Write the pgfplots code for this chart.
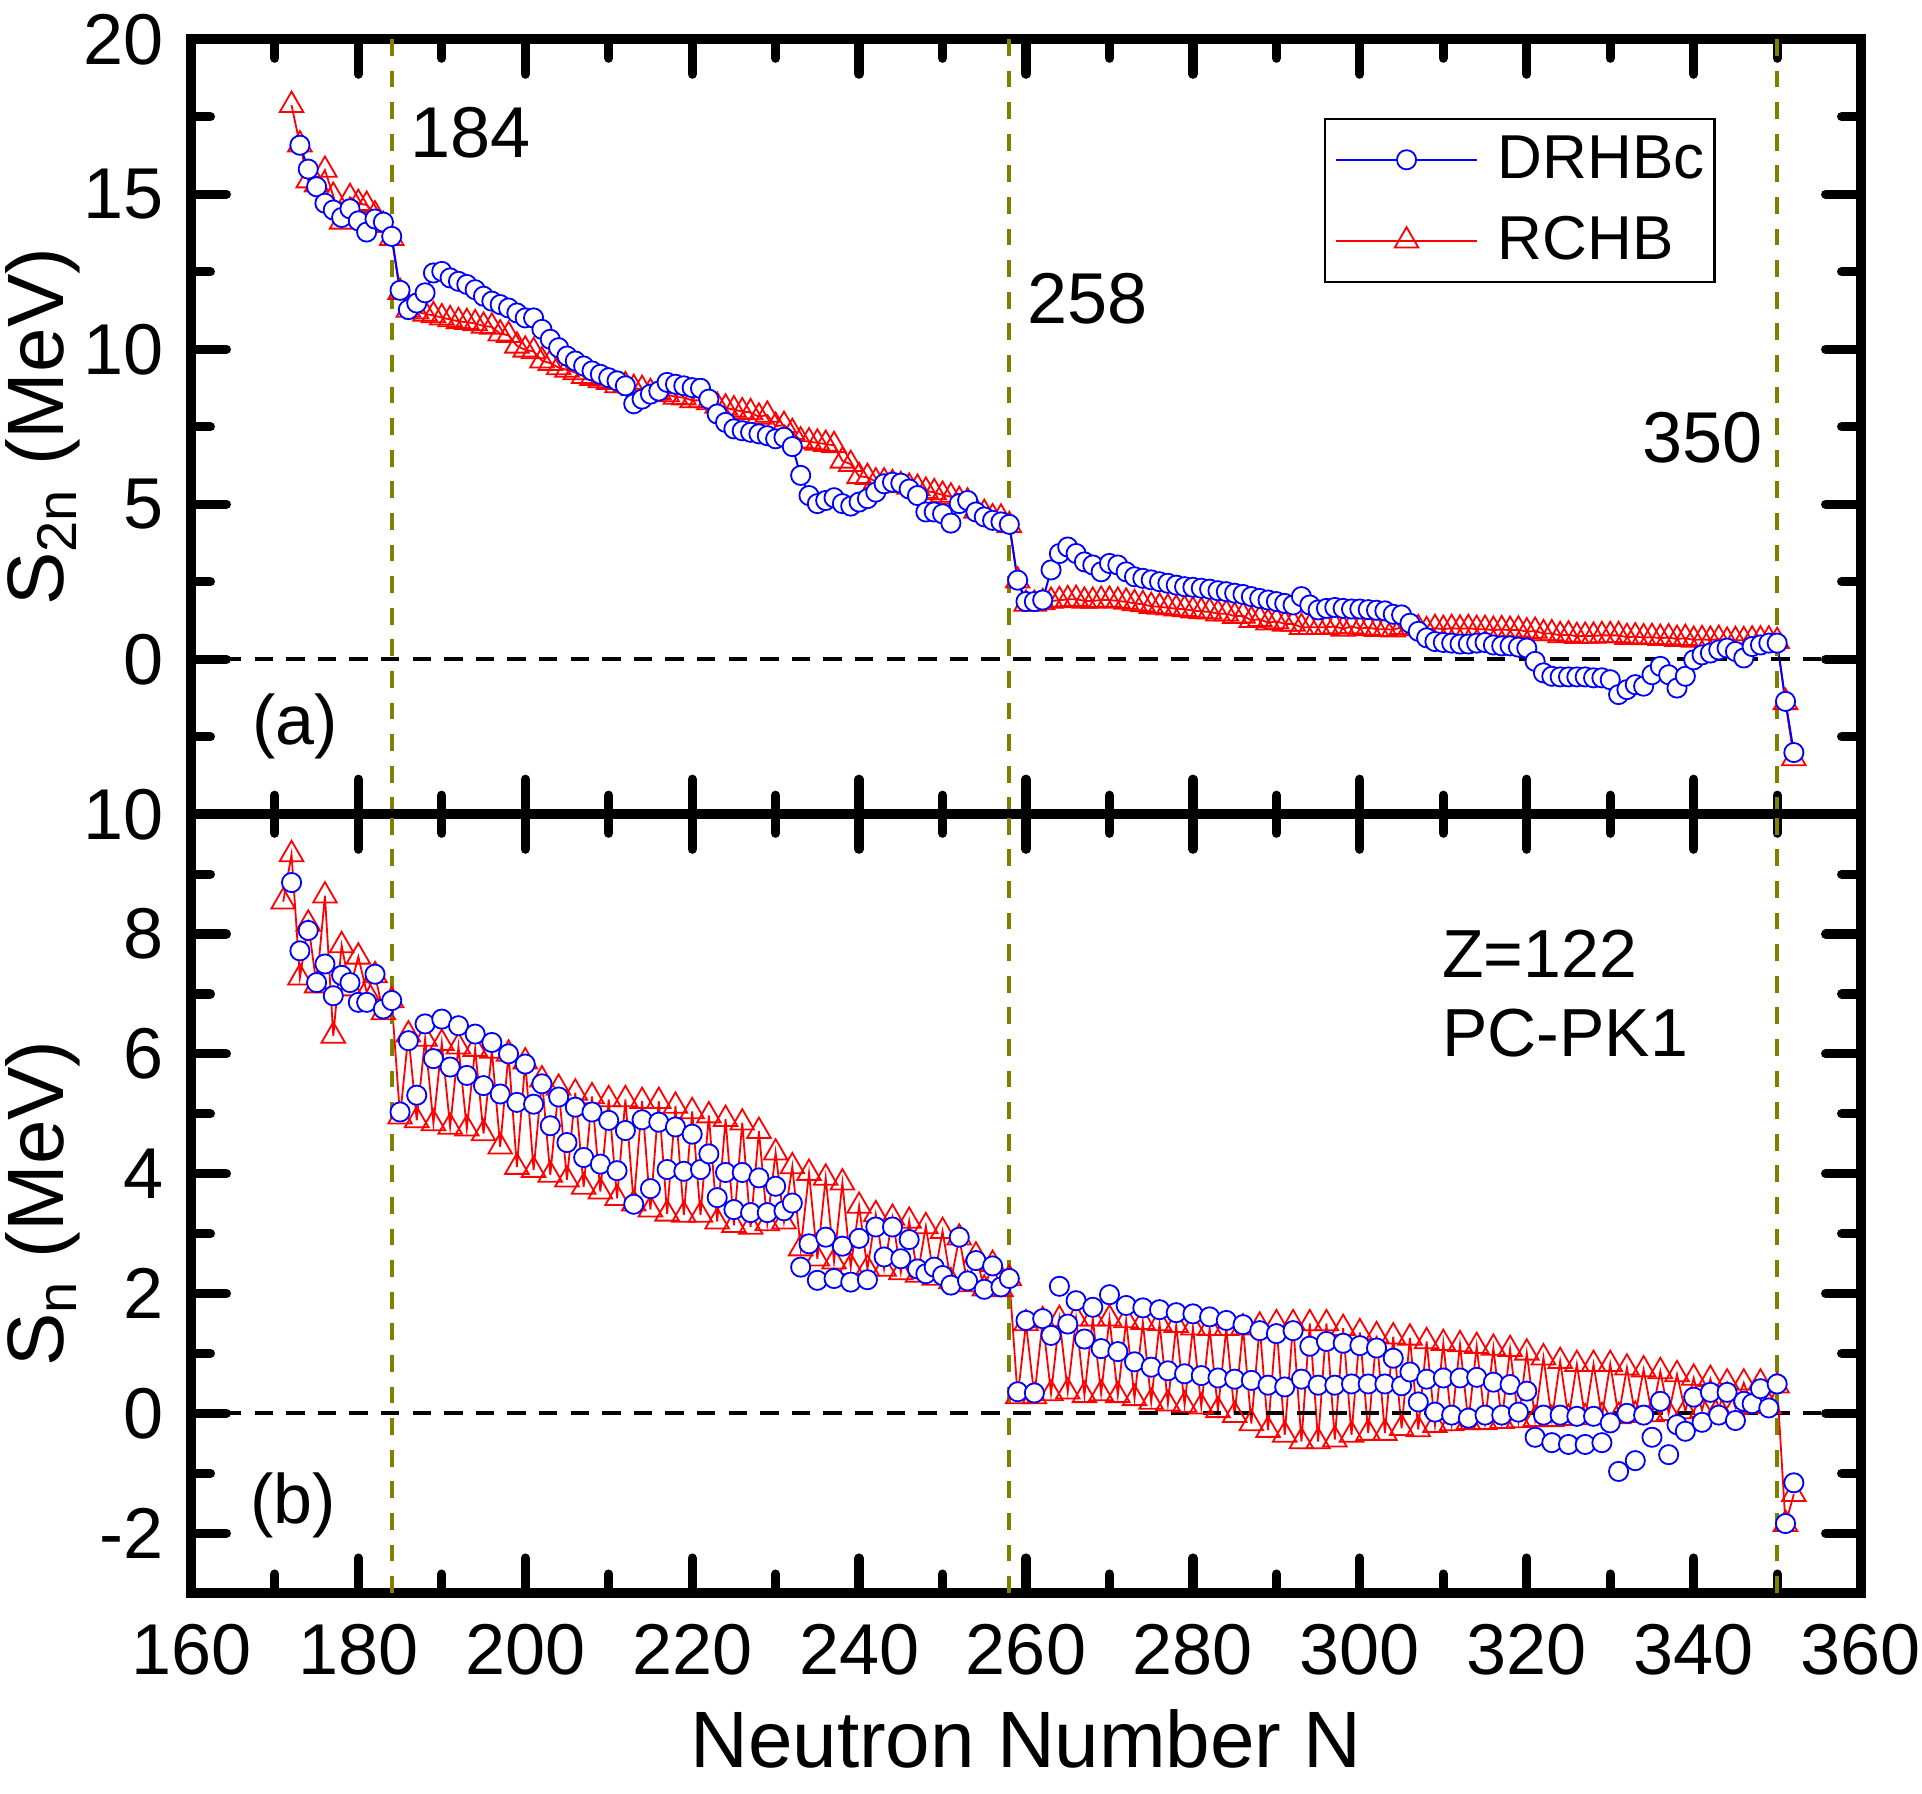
\documentclass[border=0pt]{standalone}
\usepackage{fontspec}
\setmainfont{Liberation Sans}
\usepackage{pgfplots}
\pgfplotsset{compat=1.18}
\definecolor{dblue}{RGB}{0,0,255}
\definecolor{dred}{RGB}{255,0,0}
\definecolor{dolive}{RGB}{128,128,0}
\pgfplotsset{
 base/.style={
  scale only axis, width=417.3pt,
  xmin=160, xmax=360, xtick={160,180,...,360}, minor x tick num=1,
  tick align=inside,
  axis line style={line width=2.5pt},
  every tick/.style={black, line width=2.3pt, line cap=round},
  major tick length=8.75pt, minor tick length=4.75pt,
  tick label style={font=\fontsize{18}{18}\selectfont},
  /pgf/number format/assume math mode=true,
  xticklabel style={yshift=-4.25pt},
  yticklabel style={xshift=-3.35pt},
  every axis y label/.style={at={(axis description cs:-0.0889,0.5)}, rotate=90, anchor=center, font=\fontsize{20}{20}\selectfont},
  every axis x label/.style={at={(axis description cs:0.5,0)}, anchor=center, yshift=-36.4pt, font=\fontsize{20}{20}\selectfont},
 },
 rchb/.style={color=dred, line width=0.45pt, mark=triangle, mark size=3.4pt, mark options={solid, line width=0.45pt, fill=none, draw=dred}},
 drhbc/.style={color=dblue, line width=0.5pt, mark=*, mark size=2.4pt, mark options={solid, line width=0.45pt, fill=white, draw=dblue}},
 vref/.style={dolive, line width=1pt, dash pattern=on 4.2pt off 3.7pt, forget plot},
 zref/.style={black, line width=1pt, dash pattern=on 4.6pt off 3.3pt, forget plot},
}
\begin{document}
\begin{tikzpicture}
\useasboundingbox (-47.85pt,-244.7pt) rectangle (432.65pt,203.55pt);
% ---------------- top panel ----------------
\begin{axis}[base, at={(0pt,0pt)}, anchor=south west, height=193.75pt,
  ymin=-5, ymax=20, ytick={-5,0,5,10,15,20}, yticklabels={,0,5,10,15,20}, minor y tick num=1,
  xticklabels={},
  ylabel={S\textsubscript{2n} (MeV)},
  legend style={at={(0.6785,0.8988)}, anchor=north west, draw=black, line width=0.6pt,
    font=\fontsize{15.5}{15.5}\selectfont, inner xsep=2.5pt, inner ysep=4.15pt,
    nodes={inner sep=0pt}, row sep=8pt,
    /tikz/every odd column/.append style={column sep=5pt}},
  legend cell align=left,
  legend image code/.code={\draw[mark repeat=2, mark phase=2, #1] plot coordinates {(0pt,0pt) (17.6pt,0pt) (35.2pt,0pt)};},
]
\addplot[rchb, forget plot] coordinates {
(172,17.87)(173,16.60)(174,15.44)(175,15.31)(176,15.78)(177,14.94)(178,14.11)(179,14.90)(180,14.71)(181,14.65)
(182,14.34)(183,14.00)(184,13.58)(185,11.84)(186,11.27)(187,11.21)(188,11.14)(189,11.09)(190,11.02)(191,10.96)
(192,10.90)(193,10.87)(194,10.83)(195,10.75)(196,10.72)(197,10.50)(198,10.45)(199,10.11)(200,9.98)(201,9.93)
(202,9.63)(203,9.55)(204,9.41)(205,9.33)(206,9.25)(207,9.13)(208,9.07)(209,8.99)(210,8.94)(211,8.83)
(212,8.83)(213,8.74)(214,8.71)(215,8.61)(216,8.61)(217,8.54)(218,8.46)(219,8.44)(220,8.35)(221,8.35)
(222,8.28)(223,8.17)(224,8.11)(225,8.05)(226,7.99)(227,7.96)(228,7.82)(229,7.88)(230,7.52)(231,7.55)
(232,7.32)(233,7.05)(234,7.02)(235,6.98)(236,6.94)(237,6.90)(238,6.40)(239,6.29)(240,5.90)(241,5.87)
(242,5.73)(243,5.73)(244,5.67)(245,5.61)(246,5.56)(247,5.52)(248,5.43)(249,5.38)(250,5.30)(251,5.24)
(252,5.13)(253,5.08)(254,4.78)(255,4.71)(256,4.57)(257,4.56)(258,4.32)(259,2.53)(260,1.78)(261,1.78)
(262,1.83)(263,1.88)(264,1.90)(265,1.93)(266,1.94)(267,1.88)(268,1.88)(269,1.91)(270,1.91)(271,1.88)
(272,1.85)(273,1.80)(274,1.77)(275,1.71)(276,1.69)(277,1.66)(278,1.63)(279,1.61)(280,1.57)(281,1.54)
(282,1.53)(283,1.47)(284,1.47)(285,1.39)(286,1.40)(287,1.26)(288,1.29)(289,1.18)(290,1.22)(291,1.14)
(292,1.14)(293,1.03)(294,1.03)(295,1.03)(296,1.03)(297,1.06)(298,0.98)(299,1.06)(300,0.99)(301,1.02)
(302,0.97)(303,0.97)(304,0.95)(305,1.03)(306,1.01)(307,0.99)(308,0.93)(309,1.00)(310,0.97)(311,1.00)
(312,0.98)(313,1.00)(314,0.97)(315,0.97)(316,0.94)(317,0.96)(318,0.94)(319,0.95)(320,0.89)(321,0.91)
(322,0.83)(323,0.83)(324,0.77)(325,0.79)(326,0.74)(327,0.75)(328,0.75)(329,0.77)(330,0.77)(331,0.77)
(332,0.71)(333,0.73)(334,0.70)(335,0.71)(336,0.68)(337,0.70)(338,0.65)(339,0.68)(340,0.62)(341,0.64)
(342,0.62)(343,0.65)(344,0.59)(345,0.61)(346,0.61)(347,0.63)(348,0.63)(349,0.63)(350,0.58)(351,-1.39)
(352,-3.20)};
\addplot[drhbc, forget plot] coordinates {
(173,16.58)(174,15.81)(175,15.24)(176,14.71)(177,14.49)(178,14.25)(179,14.53)(180,14.14)(181,13.78)(182,14.20)
(183,14.10)(184,13.64)(185,11.90)(186,11.28)(187,11.49)(188,11.82)(189,12.46)(190,12.51)(191,12.30)(192,12.19)
(193,12.09)(194,11.92)(195,11.71)(196,11.55)(197,11.44)(198,11.33)(199,11.17)(200,11.01)(201,11.01)(202,10.64)
(203,10.32)(204,10.05)(205,9.78)(206,9.62)(207,9.46)(208,9.30)(209,9.19)(210,9.08)(211,8.98)(212,8.82)
(213,8.24)(214,8.39)(215,8.55)(216,8.65)(217,8.93)(218,8.87)(219,8.82)(220,8.76)(221,8.74)(222,8.39)
(223,7.91)(224,7.64)(225,7.43)(226,7.37)(227,7.32)(228,7.27)(229,7.21)(230,7.11)(231,7.16)(232,6.86)
(233,5.93)(234,5.28)(235,5.02)(236,5.12)(237,5.21)(238,5.02)(239,4.94)(240,5.07)(241,5.18)(242,5.39)
(243,5.66)(244,5.71)(245,5.68)(246,5.49)(247,5.28)(248,4.75)(249,4.75)(250,4.69)(251,4.39)(252,5.02)
(253,5.12)(254,4.75)(255,4.59)(256,4.48)(257,4.43)(258,4.35)(259,2.55)(260,1.86)(261,1.86)(262,1.91)
(263,2.88)(264,3.41)(265,3.62)(266,3.41)(267,3.14)(268,3.04)(269,2.82)(270,3.09)(271,3.04)(272,2.82)
(273,2.66)(274,2.61)(275,2.56)(276,2.50)(277,2.45)(278,2.39)(279,2.34)(280,2.32)(281,2.29)(282,2.26)
(283,2.21)(284,2.18)(285,2.13)(286,2.09)(287,2.02)(288,1.96)(289,1.91)(290,1.86)(291,1.80)(292,1.75)
(293,2.02)(294,1.75)(295,1.59)(296,1.64)(297,1.67)(298,1.64)(299,1.62)(300,1.62)(301,1.60)(302,1.58)
(303,1.56)(304,1.45)(305,1.43)(306,1.16)(307,0.90)(308,0.69)(309,0.57)(310,0.54)(311,0.52)(312,0.49)
(313,0.49)(314,0.52)(315,0.54)(316,0.46)(317,0.43)(318,0.43)(319,0.39)(320,0.36)(321,-0.07)(322,-0.44)
(323,-0.55)(324,-0.57)(325,-0.57)(326,-0.57)(327,-0.57)(328,-0.60)(329,-0.60)(330,-0.66)(331,-1.14)(332,-0.98)
(333,-0.82)(334,-0.87)(335,-0.50)(336,-0.23)(337,-0.50)(338,-0.93)(339,-0.55)(340,-0.02)(341,0.14)(342,0.20)
(343,0.30)(344,0.36)(345,0.25)(346,0.04)(347,0.41)(348,0.46)(349,0.52)(350,0.52)(351,-1.36)(352,-3.01)};
\addlegendimage{drhbc}
\addlegendentry{DRHBc}
\addlegendimage{rchb}
\addlegendentry{RCHB}
\addplot[zref] coordinates {(160,0) (360,0)};
\addplot[vref] coordinates {(184,-5) (184,20)};
\addplot[vref] coordinates {(258,-5) (258,20)};
\addplot[vref] coordinates {(350,-5) (350,20)};
\node[font=\fontsize{18}{18}\selectfont] at (axis cs:193.4,16.99) {184};
\node[font=\fontsize{18}{18}\selectfont] at (axis cs:267.4,11.62) {258};
\node[font=\fontsize{18}{18}\selectfont] at (axis cs:341.1,7.15) {350};
\node[font=\fontsize{17.5}{17.5}\selectfont] at (axis cs:172.4,-2.18) {(a)};
\end{axis}
% ---------------- bottom panel ----------------
\begin{axis}[base, at={(0pt,0pt)}, anchor=north west, height=194.7pt,
  ymin=-3, ymax=10, ytick={-2,0,2,4,6,8,10}, minor y tick num=1,
  xlabel={Neutron Number N},
  ylabel={S\textsubscript{n} (MeV)},
]
\addplot[rchb] coordinates {
(171,8.54)(172,9.33)(173,7.27)(174,8.17)(175,7.14)(176,8.64)(177,6.30)(178,7.81)(179,7.09)(180,7.62)
(181,7.03)(182,7.31)(183,6.69)(184,6.89)(185,4.95)(186,6.32)(187,4.89)(188,6.25)(189,4.84)(190,6.18)
(191,4.78)(192,6.12)(193,4.75)(194,6.08)(195,4.67)(196,6.05)(197,4.45)(198,6.00)(199,4.11)(200,5.87)
(201,4.06)(202,5.57)(203,3.98)(204,5.43)(205,3.90)(206,5.35)(207,3.78)(208,5.29)(209,3.70)(210,5.24)
(211,3.59)(212,5.24)(213,3.50)(214,5.21)(215,3.40)(216,5.21)(217,3.33)(218,5.13)(219,3.31)(220,5.04)
(221,3.31)(222,4.97)(223,3.20)(224,4.91)(225,3.14)(226,4.85)(227,3.11)(228,4.71)(229,3.17)(230,4.35)
(231,3.20)(232,4.12)(233,2.75)(234,4.01)(235,2.58)(236,3.93)(237,2.53)(238,3.85)(239,2.44)(240,3.46)
(241,2.41)(242,3.32)(243,2.41)(244,3.26)(245,2.35)(246,3.21)(247,2.31)(248,3.12)(249,2.26)(250,3.04)
(251,2.20)(252,2.93)(253,2.15)(254,2.63)(255,2.08)(256,2.49)(257,2.07)(258,2.25)(259,0.28)(260,1.50)
(261,0.28)(262,1.55)(263,0.33)(264,1.57)(265,0.36)(266,1.58)(267,0.30)(268,1.58)(269,0.33)(270,1.58)
(271,0.30)(272,1.55)(273,0.25)(274,1.52)(275,0.19)(276,1.50)(277,0.16)(278,1.47)(279,0.14)(280,1.43)
(281,0.11)(282,1.42)(283,0.05)(284,1.42)(285,-0.03)(286,1.43)(287,-0.17)(288,1.46)(289,-0.28)(290,1.50)
(291,-0.36)(292,1.50)(293,-0.47)(294,1.50)(295,-0.47)(296,1.50)(297,-0.44)(298,1.42)(299,-0.36)(300,1.35)
(301,-0.33)(302,1.30)(303,-0.33)(304,1.28)(305,-0.25)(306,1.26)(307,-0.27)(308,1.20)(309,-0.20)(310,1.17)
(311,-0.17)(312,1.15)(313,-0.15)(314,1.12)(315,-0.15)(316,1.09)(317,-0.13)(318,1.07)(319,-0.12)(320,1.01)
(321,-0.10)(322,0.93)(323,-0.10)(324,0.87)(325,-0.08)(326,0.82)(327,-0.07)(328,0.82)(329,-0.05)(330,0.82)
(331,-0.05)(332,0.76)(333,-0.03)(334,0.73)(335,-0.02)(336,0.70)(337,0.00)(338,0.65)(339,0.03)(340,0.59)
(341,0.05)(342,0.57)(343,0.08)(344,0.51)(345,0.10)(346,0.51)(347,0.12)(348,0.51)(349,0.12)(350,0.46)
(351,-1.85)(352,-1.35)};
\addplot[drhbc, only marks] coordinates {
(172,8.86)(173,7.72)(174,8.06)(175,7.19)(176,7.50)(177,6.97)(178,7.31)(179,7.19)(180,6.86)(181,6.86)
(182,7.33)(183,6.75)(184,6.89)(185,5.03)(186,6.22)(187,5.31)(188,6.50)(189,5.92)(190,6.58)(191,5.78)
(192,6.47)(193,5.64)(194,6.33)(195,5.47)(196,6.19)(197,5.33)(198,6.00)(199,5.19)(200,5.83)(201,5.16)
(202,5.50)(203,4.80)(204,5.28)(205,4.52)(206,5.11)(207,4.27)(208,5.03)(209,4.16)(210,4.89)(211,4.05)
(212,4.72)(213,3.49)(214,4.90)(215,3.75)(216,4.86)(217,4.07)(218,4.78)(219,4.04)(220,4.66)(221,4.07)
(222,4.33)(223,3.60)(224,4.02)(225,3.40)(226,4.02)(227,3.35)(228,3.93)(229,3.35)(230,3.79)(231,3.38)
(232,3.51)(233,2.44)(234,2.83)(235,2.22)(236,2.94)(237,2.25)(238,2.79)(239,2.19)(240,2.92)(241,2.23)
(242,3.11)(243,2.61)(244,3.11)(245,2.58)(246,2.90)(247,2.41)(248,2.33)(249,2.44)(250,2.30)(251,2.14)
(252,2.94)(253,2.21)(254,2.55)(255,2.07)(256,2.46)(257,2.11)(258,2.25)(259,0.36)(260,1.55)(261,0.34)
(262,1.58)(263,1.30)(264,2.12)(265,1.49)(266,1.88)(267,1.24)(268,1.77)(269,1.08)(270,1.98)(271,1.03)
(272,1.80)(273,0.86)(274,1.76)(275,0.77)(276,1.73)(277,0.71)(278,1.68)(279,0.66)(280,1.66)(281,0.63)
(282,1.61)(283,0.59)(284,1.55)(285,0.57)(286,1.48)(287,0.55)(288,1.38)(289,0.47)(290,1.33)(291,0.44)
(292,1.38)(293,0.57)(294,1.12)(295,0.47)(296,1.20)(297,0.47)(298,1.17)(299,0.49)(300,1.13)(301,0.49)
(302,1.09)(303,0.49)(304,0.92)(305,0.46)(306,0.69)(307,0.19)(308,0.57)(309,0.02)(310,0.59)(311,-0.03)
(312,0.59)(313,-0.08)(314,0.60)(315,-0.03)(316,0.52)(317,-0.03)(318,0.48)(319,0.02)(320,0.37)(321,-0.40)
(322,-0.03)(323,-0.49)(324,-0.03)(325,-0.52)(326,-0.05)(327,-0.52)(328,-0.05)(329,-0.49)(330,-0.16)(331,-0.97)
(332,0.00)(333,-0.79)(334,-0.03)(335,-0.40)(336,0.20)(337,-0.69)(338,-0.19)(339,-0.30)(340,0.27)(341,-0.15)
(342,0.35)(343,-0.03)(344,0.35)(345,-0.12)(346,0.20)(347,0.16)(348,0.41)(349,0.09)(350,0.49)(351,-1.84)
(352,-1.16)};
\addplot[zref] coordinates {(160,0) (360,0)};
\addplot[vref] coordinates {(184,-3) (184,10)};
\addplot[vref] coordinates {(258,-3) (258,10)};
\addplot[vref] coordinates {(350,-3) (350,10)};
\node[font=\fontsize{17.5}{17.5}\selectfont] at (axis cs:172.2,-1.54) {(b)};
\node[font=\fontsize{17}{17}\selectfont, anchor=west] at (axis cs:308.2,7.67) {Z=122};
\node[font=\fontsize{17}{17}\selectfont, anchor=west] at (axis cs:308.2,6.35) {PC-PK1};
\end{axis}
\end{tikzpicture}
\end{document}
